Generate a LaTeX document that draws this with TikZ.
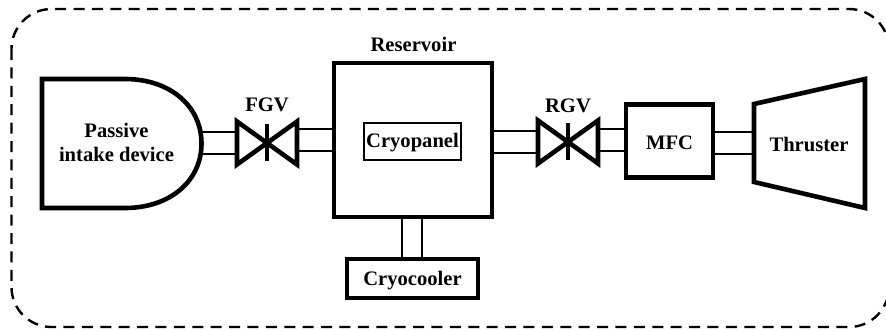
\documentclass[tikz,border=0pt]{standalone}
\usepackage{fontspec}
\setmainfont{Liberation Serif}
\tikzset{
  heavy/.style={line width=4.6pt, line join=miter},
  pipe/.style={line width=2.4pt},
  unitbox/.style={draw, heavy, inner sep=0pt, outer sep=0pt},
  valvebox/.style={inner sep=0pt, outer sep=0pt, minimum width=60pt, minimum height=43pt},
  tag/.style={inner sep=0pt, font=\fontsize{20.6}{25}\selectfont\bfseries, align=center},
}
\begin{document}
\begin{tikzpicture}[x=1pt, y=-1pt]
  \clip (0,0) rectangle (886,330);

  % outer dashed boundary, its right side falls off the page
  \draw[line width=2.4pt, dash pattern=on 11pt off 7.4pt, rounded corners=40pt]
        (11.5,9) rectangle (889,327);

  % intake
  \draw[heavy] (125,79) -- (42,79) -- (42,208) -- (125,208)
        .. controls (170,208) and (201.5,181) .. (201.5,143.5)
        .. controls (201.5,106) and (170,79) .. (125,79) -- cycle;
  \coordinate (port) at (200,143);
  \node[tag] (intake) at (116.5,142.5) {Passive\\[-0.5pt]intake device};

  % boxes
  \node[unitbox, minimum width=158pt, minimum height=154pt] (reservoir) at (413,140) {};
  \node[tag, anchor=base] (reservoirtag) at (413.5,51.5) {Reservoir};
  \node[tag, draw, line width=2.4pt, minimum width=97pt, minimum height=37pt, text height=17pt, text depth=4.5pt] (cryopanel) at (412.5,141.5) {Cryopanel};
  \node[unitbox, tag, minimum width=131pt, minimum height=39pt, text height=19pt, text depth=4.5pt] (cryocooler) at (412.5,278.5) {Cryocooler};
  \node[unitbox, tag, minimum width=87pt, minimum height=73pt, text height=16pt, text depth=0pt] (mfc) at (669.5,141) {MFC};

  % thruster
  \draw[heavy] (754,104) -- (865,79) -- (865,208) -- (754,182) -- cycle;
  \coordinate (nozzle) at (754,143);
  \node[tag] (thruster) at (809,144) {Thruster};

  % valves
  \node[valvebox] (fgv) at (267,143) {};
  \node[valvebox] (rgv) at (568,142) {};
  \foreach \v/\t/\h in {fgv/FGV/32, rgv/RGV/30} {
    \draw[heavy] (\v.north west) -- (\v.south east) -- (\v.north east) -- (\v.south west) -- cycle;
    \draw[heavy] ([yshift=19pt]\v.center) -- ([yshift=-18pt]\v.center);
    \node[tag, anchor=base] (\v tag) at ([yshift=\h pt]\v.center) {\t};
  }

  % pipes
  \foreach \y in {132,154} {
    \draw[pipe] (port |- 0,\y) -- (fgv.west |- 0,\y);
    \draw[pipe] (mfc.east |- 0,\y) -- (nozzle |- 0,\y);
  }
  \foreach \y in {129,151} {
    \draw[pipe] (fgv.east |- 0,\y) -- (reservoir.west |- 0,\y);
    \draw[pipe] (rgv.east |- 0,\y) -- (mfc.west |- 0,\y);
  }
  \foreach \y in {131,153}
    \draw[pipe] (reservoir.east |- 0,\y) -- (rgv.west |- 0,\y);
  \foreach \x in {402,422}
    \draw[pipe] (\x,0 |- reservoir.south) -- (\x,0 |- cryocooler.north);
\end{tikzpicture}
\end{document}
